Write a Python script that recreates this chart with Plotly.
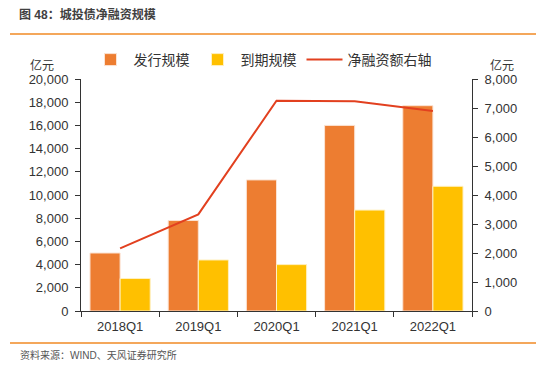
import plotly.graph_objects as go

categories = ["2018Q1", "2019Q1", "2020Q1", "2021Q1", "2022Q1"]
issuance = [5000, 7800, 11300, 16000, 17700]
maturity = [2800, 4400, 4000, 8700, 10750]
net_financing = [2160, 3330, 7250, 7230, 6900]

left_ticks = list(range(0, 20001, 2000))
right_ticks = list(range(0, 8001, 1000))

FONT = "Liberation Sans, Noto Sans CJK SC, Arial, sans-serif"

# page body has an 8px margin; figure is sized/offset to compensate
fig = go.Figure()
fig.add_trace(go.Bar(x=categories, y=issuance, name="发行规模",
                     marker=dict(color="#ED7D31", line=dict(color="#FBE3D3", width=1))))
fig.add_trace(go.Bar(x=categories, y=maturity, name="到期规模",
                     marker=dict(color="#FFC000", line=dict(color="#FFF0C0", width=1))))
fig.add_trace(go.Scatter(x=categories, y=net_financing, name="净融资额右轴", yaxis="y2",
                         mode="lines", line=dict(color="#E2401F", width=2)))

fig.update_layout(
    width=537, height=359,
    margin=dict(l=73, r=73, t=71, b=56, autoexpand=False),
    paper_bgcolor="white", plot_bgcolor="white",
    font=dict(family=FONT, size=13, color="#333333"),
    barmode="group", bargap=0.23, bargroupgap=0,
    showlegend=True,
    legend=dict(orientation="h", x=(262-81)/391, xanchor="center", y=1 - 52/359,
                yanchor="middle", yref="container", font=dict(size=14, color="#333333"),
                itemwidth=36, tracegroupgap=0, traceorder="normal"),
    xaxis=dict(showline=True, linecolor="#333333", linewidth=1, ticks="outside",
               tickson="boundaries", ticklen=5, tickcolor="#333333",
               showgrid=False, ticklabelstandoff=3, tickfont=dict(size=13, color="#333333")),
    yaxis=dict(range=[0, 20000], tickvals=left_ticks, tickformat=",d",
               showline=True, linecolor="#333333", linewidth=1, ticks="outside",
               ticklen=5, tickcolor="#333333", showgrid=False, zeroline=False,
               ticklabelstandoff=4, tickfont=dict(size=13, color="#333333")),
    yaxis2=dict(range=[0, 8000], tickvals=right_ticks, tickformat=",d", overlaying="y",
                side="right", showline=True, linecolor="#333333", linewidth=1,
                ticks="outside", ticklen=5, tickcolor="#333333", showgrid=False,
                zeroline=False, ticklabelstandoff=4, tickfont=dict(size=13, color="#333333")),
)

# title, rules and source
fig.add_annotation(text="<b>图 48：城投债净融资规模</b>", xref="paper", yref="paper",
                   x=-64/391, y=1 + (79-14)/232, xanchor="left", yanchor="middle",
                   showarrow=False, font=dict(size=12, color="#404040"))
fig.add_shape(type="line", xref="paper", yref="paper", x0=-71/391, x1=(536-81)/391,
              y0=1 + (79-34)/232, y1=1 + (79-34)/232, line=dict(color="#F08A24", width=1.5))
fig.add_shape(type="line", xref="paper", yref="paper", x0=-71/391, x1=(536-81)/391,
              y0=-(343-311)/232, y1=-(343-311)/232, line=dict(color="#F08A24", width=1.5))
fig.add_annotation(text="资料来源：WIND、天风证券研究所", xref="paper", yref="paper",
                   x=-63/391, y=-(355-311)/232, xanchor="left", yanchor="middle",
                   showarrow=False, font=dict(size=10, color="#555555"))
# axis unit labels
fig.add_annotation(text="亿元", xref="paper", yref="paper", x=(42-81)/391, y=1 + 14/232,
                   xanchor="center", yanchor="middle", showarrow=False,
                   font=dict(size=12, color="#333333"))
fig.add_annotation(text="亿元", xref="paper", yref="paper", x=1 + (502-472)/391, y=1 + 14/232,
                   xanchor="center", yanchor="middle", showarrow=False,
                   font=dict(size=12, color="#333333"))

fig.write_html("out.html")
